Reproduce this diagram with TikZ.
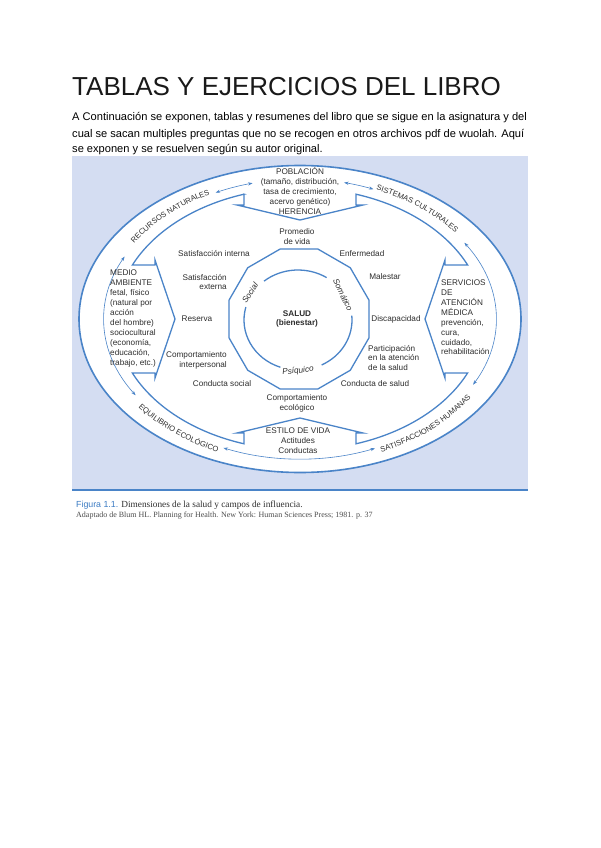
\documentclass[tikz,border=0pt]{standalone}
\usepackage{fontspec}
\setmainfont{Liberation Sans}
\newfontfamily\capserif{Liberation Serif}
\usetikzlibrary{decorations.text,arrows.meta}
\definecolor{bgblue}{HTML}{D4DDF2}
\definecolor{lineblue}{HTML}{4A84C8}
\definecolor{txt}{HTML}{2E2E2E}
\definecolor{figblue}{HTML}{3C7CC4}
\newcommand\bandfont{\fontsize{7.6}{9}\selectfont}
\begin{document}
\begin{tikzpicture}[x=1pt,y=-1pt,
  main/.style={draw=lineblue, line width=1.3pt, line join=miter},
  thinarrow/.style={draw=lineblue, line width=0.6pt, {Stealth[length=4.5pt,width=3.2pt]}-{Stealth[length=4.5pt,width=3.2pt]}},
  lbl/.style={font=\fontsize{8.2}{9.9}\selectfont, text=txt, inner sep=0pt, align=center},
  lbll/.style={lbl, align=left},
  lblr/.style={lbl, align=right},
  body/.style={anchor=base west, inner sep=0pt, font=\fontsize{11.1}{13}\selectfont, text=black},
  band/.style={decorate, decoration={text along path, text color=txt, text align=center}}
]
\useasboundingbox (0,0) rectangle (600,848);
\fill[white] (0,0) rectangle (600,848);

% header text
\node[anchor=base west, inner sep=0pt, font=\fontsize{26}{30}\selectfont, text=black!90] (title) at (72,96) {TABLAS Y EJERCICIOS DEL LIBRO};
\node[body] (l1) at (72,121) {A Continuación se exponen, tablas y resumenes del libro que se sigue en la asignatura y del};
\node[body] (l2) at (72,137) {cual se sacan multiples preguntas que no se recogen en otros archivos pdf de wuolah. Aquí};
\node[body] (l3) at (72,153) {se exponen y se resuelven según su autor original.};

% figure box
\fill[bgblue] (72,156) rectangle (528,490);
\draw[lineblue, line width=1.6pt] (72,490) -- (528,490);

% outer ellipse
\draw[lineblue, line width=1.6pt, fill=white] (300,319) ellipse [x radius=221, y radius=153.5];

% inner region with four inward arrows
\draw[main] (244,194.2) -- (244,205) -- (237,205) -- (300,220) -- (363,205) -- (356,205) -- (356,194.2)
  arc[start angle=287.72, end angle=335.66, x radius=184, y radius=131] -- (445,265) -- (445,260) -- (425,319) -- (445,378) -- (445,373) -- (467.6,373)
  arc[start angle=24.34, end angle=72.28, x radius=184, y radius=131] -- (356,433) -- (363,433) -- (300,418) -- (237,433) -- (244,433) -- (244,443.8)
  arc[start angle=107.72, end angle=155.66, x radius=184, y radius=131] -- (155,373) -- (155,378) -- (175,319) -- (155,260) -- (155,265) -- (132.4,265)
  arc[start angle=204.34, end angle=252.28, x radius=184, y radius=131] -- cycle;

% dodecagon
\begin{scope}[shift={(299,319)}]
\draw[main] (15:72.5) -- (45:72.5) -- (75:72.5) -- (105:72.5) -- (135:72.5) -- (165:72.5) -- (195:72.5) -- (225:72.5) -- (255:72.5) -- (285:72.5) -- (315:72.5) -- (345:72.5) -- cycle;
\end{scope}

% inner circle arcs
\draw[main] (298,320) ++(231:54 and 50) arc[start angle=231, end angle=302, x radius=54, y radius=50];
\draw[main] (298,320) ++(-5:54 and 50) arc[start angle=-5, end angle=64, x radius=54, y radius=50];
\draw[main] (298,320) ++(109:54 and 50) arc[start angle=109, end angle=195, x radius=54, y radius=50];

% thin arrows in the band
\draw[thinarrow] (300,319) ++(244.5:196 and 140) arc[start angle=244.5, end angle=256, x radius=196, y radius=140];
\draw[thinarrow] (300,319) ++(283:196 and 140) arc[start angle=283, end angle=292, x radius=196, y radius=140];
\draw[thinarrow] (300,319) ++(-33:196 and 140) arc[start angle=-33, end angle=28, x radius=196, y radius=140];
\draw[thinarrow] (300,319) ++(67.5:196 and 140) arc[start angle=67.5, end angle=113, x radius=196, y radius=140];
\draw[thinarrow] (300,319) ++(147:196 and 140) arc[start angle=147, end angle=206.5, x radius=196, y radius=140];

% band labels
\path[band, decoration={text={|\bandfont|RECURSOS NATURALES}}] (300,319) ++(196:197 and 140) arc[start angle=196, end angle=256, x radius=197, y radius=140];
\path[band, decoration={text={|\bandfont|SISTEMAS CULTURALES}}] (300,319) ++(279:197 and 140) arc[start angle=279, end angle=339, x radius=197, y radius=140];
\path[band, decoration={text={|\bandfont|SATISFACCIONES HUMANAS}}] (300,319) ++(78:203 and 145.5) arc[start angle=78, end angle=18, x radius=203, y radius=145.5];
\path[band, decoration={text={|\bandfont|EQUILIBRIO ECOLÓGICO}}] (300,319) ++(160:203 and 145.5) arc[start angle=160, end angle=100, x radius=203, y radius=145.5];

% texts
\node[lbl] (pob) at (300,191) {POBLACIÓN\\(tamaño, distribución,\\tasa de crecimiento,\\acervo genético)\\HERENCIA};
\node[lbl] (prom) at (297,237) {Promedio\\de vida};
\node[lbl] (satint) at (214,254) {Satisfacción interna};
\node[lbl] (enf) at (362,254) {Enfermedad};
\node[lblr, anchor=east] (satext) at (227,282) {Satisfacción\\externa};
\node[lbl] (mal) at (385,277) {Malestar};
\node[lbl] (res) at (197,319) {Reserva};
\node[lbl] (disc) at (396,319) {Discapacidad};
\node[lblr, anchor=east] (compi) at (227,360) {Comportamiento\\interpersonal};
\node[lbll, anchor=west] (part) at (368,358) {Participación\\en la atención\\de la salud};
\node[lbl] (consoc) at (222,384) {Conducta social};
\node[lbl] (consal) at (375,384) {Conducta de salud};
\node[lbl] (compe) at (297,403) {Comportamiento\\ecológico};
\node[lbl] (estilo) at (298,441) {ESTILO DE VIDA\\Actitudes\\Conductas};
\node[lbl, font=\bfseries\fontsize{8.2}{9.9}\selectfont] (salud) at (297,319) {SALUD\\(bienestar)};
\node[lbll, anchor=west] (medio) at (110,318.5) {MEDIO\\AMBIENTE\\fetal, físico\\(natural por\\acción\\del hombre)\\sociocultural\\(economía,\\educación,\\trabajo, etc.)};
\node[lbll, anchor=west] (serv) at (441,317.5) {SERVICIOS\\DE\\ATENCIÓN\\MÉDICA\\prevención,\\cura,\\cuidado,\\rehabilitación};

\node[lbl, font=\itshape\fontsize{8.2}{9.9}\selectfont, rotate=57] (social) at (250,293) {Social};
\node[lbl, font=\itshape\fontsize{8.2}{9.9}\selectfont, rotate=-64] (somat) at (343,295) {Somático};
\node[lbl, font=\itshape\fontsize{8.2}{9.9}\selectfont, rotate=6] (psiq) at (298,371) {Psíquico};

% caption
\node[anchor=base west, inner sep=0pt, font=\capserif\fontsize{9.3}{11}\selectfont, text=txt] (cap1) at (76,507) {{\rmfamily\fontsize{8.8}{11}\selectfont\color{figblue}Figura 1.1.} Dimensiones de la salud y campos de influencia.};
\node[anchor=base west, inner sep=0pt, font=\capserif\fontsize{8}{9}\selectfont, text=txt!85] (cap2) at (76,517) {Adaptado de Blum HL. Planning for Health. New York: Human Sciences Press; 1981. p. 37};
\end{tikzpicture}
\end{document}
